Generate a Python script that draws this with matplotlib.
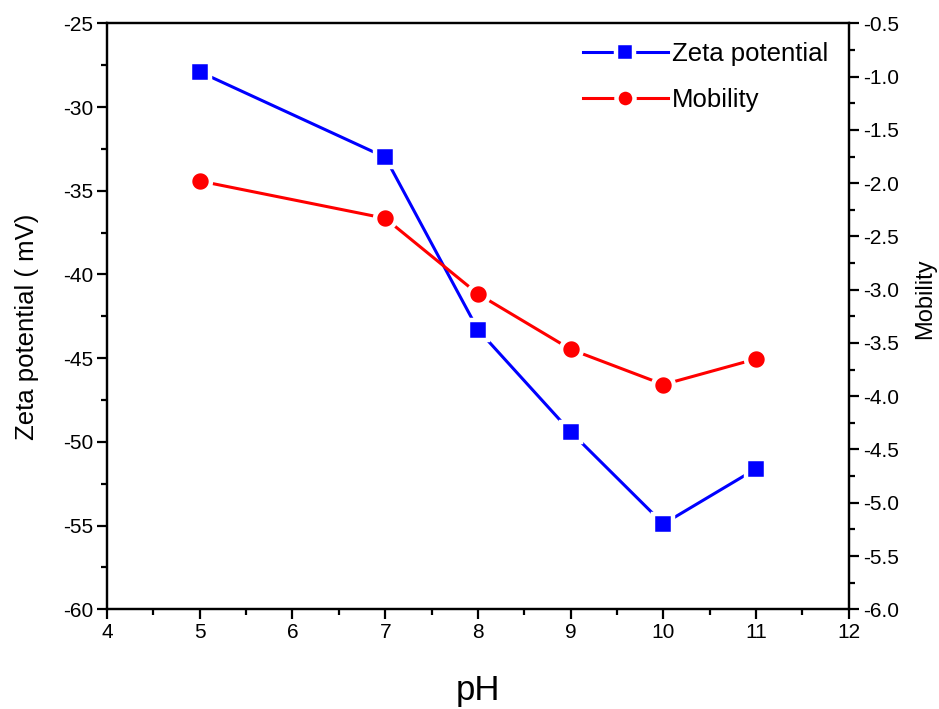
import numpy as np
import matplotlib
matplotlib.use('Agg')
import matplotlib.pyplot as plt
from matplotlib.ticker import MultipleLocator, FormatStrFormatter

plt.rcParams['font.family'] = ['Liberation Sans', 'DejaVu Sans']
plt.rcParams['axes.unicode_minus'] = False

# data
ph = [5, 7, 8, 9, 10, 11]
zeta = [-27.9, -33.0, -43.3, -49.4, -54.9, -51.6]
mobility = [-1.98, -2.33, -3.04, -3.56, -3.89, -3.65]

fig = plt.figure(figsize=(9.39, 7.09), dpi=100)
ax = fig.add_axes([0.114, 0.1406, 0.790, 0.8265])
ax2 = ax.twinx()

l1, = ax.plot(ph, zeta, color='#0000ff', lw=2.2, marker='s', markersize=14.5,
              markerfacecolor='#0000ff', markeredgecolor='white', markeredgewidth=3.2,
              label='Zeta potential', zorder=3)
l2, = ax2.plot(ph, mobility, color='#ff0000', lw=2.2, marker='o', markersize=15,
               markerfacecolor='#ff0000', markeredgecolor='white', markeredgewidth=3.2,
               label='Mobility', zorder=3)

ax.set_xlim(4, 12)
ax.set_ylim(-60, -25)
ax2.set_ylim(-6.0, -0.5)

ax.xaxis.set_major_locator(MultipleLocator(1))
ax.xaxis.set_minor_locator(MultipleLocator(0.5))
ax.yaxis.set_major_locator(MultipleLocator(5))
ax.yaxis.set_minor_locator(MultipleLocator(2.5))
ax2.yaxis.set_major_locator(MultipleLocator(0.5))
ax2.yaxis.set_minor_locator(MultipleLocator(0.25))
ax2.yaxis.set_major_formatter(FormatStrFormatter('%.1f'))

for a in (ax, ax2):
    for s in a.spines.values():
        s.set_linewidth(1.6)
    a.tick_params(which='major', direction='out', length=7, width=1.6, labelsize=15, pad=3)
    a.tick_params(which='minor', direction='out', length=4.5, width=1.6)
ax.tick_params(axis='x', top=False, which='both')

ax.set_xlabel('pH', fontsize=25, labelpad=23)
ax.set_ylabel('Zeta potential ( mV)', fontsize=18.5)
ax.yaxis.set_label_coords(-0.092, 0.482)
ax2.set_ylabel('Mobility', fontsize=17)
ax2.yaxis.set_label_coords(1.088, 0.53)

leg = ax.legend(handles=[l1, l2], loc='upper left', bbox_to_anchor=(0.6415, 0.968),
                frameon=False, fontsize=18.5, handlelength=3.3, labelspacing=0.87,
                handletextpad=0.15, borderpad=0, borderaxespad=0)
for h in leg.legend_handles:
    h.set_markersize(13)

fig.savefig('out.png', dpi=100)
